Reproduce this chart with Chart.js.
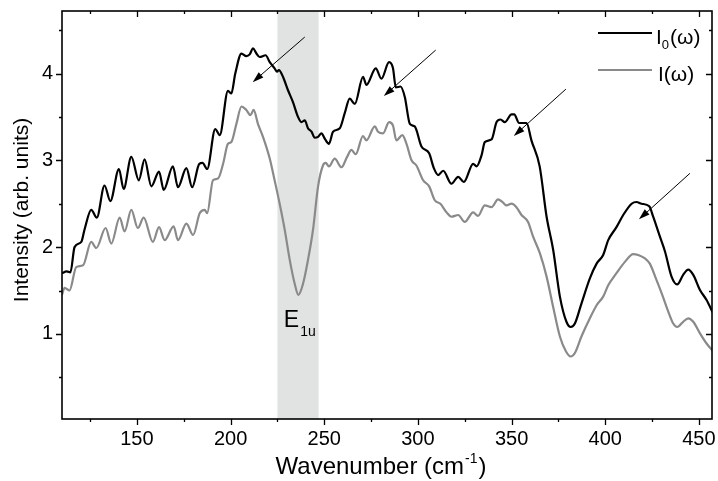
<!DOCTYPE html>
<html>
<head>
<meta charset="utf-8">
<script src="https://cdn.jsdelivr.net/npm/chart.js@4/dist/chart.umd.min.js"></script>
<style>
  html, body { margin: 0; padding: 0; background: #fff; }
  #wrap { width: 718px; height: 481px; }
</style>
</head>
<body>
<div id="wrap"><canvas id="myChart"></canvas></div>
<script>
// wavenumber (cm-1) and intensity of the reference spectrum I0(w)
const wnI0 = [110, 112.5, 114.5, 116.7, 120.3, 122, 125.6, 128.6, 132.7, 135.8, 140.4, 142.9, 147, 151, 154.1, 157.7,
  161.8, 164.3, 169.2, 171.9, 176.4, 179.5, 183.3, 185, 187.5, 191.8, 194.2, 198.6, 200.4, 202.5, 205.8, 208.4,
  210.2, 212, 213.8, 215.5, 218.7, 220.9, 223.5, 224.8, 225.8, 228, 230.6, 233.3, 236, 237.8, 239.6, 241.3,
  243.2, 244.9, 246.7, 248.5, 250.5, 252.5, 254.7, 258.3, 260.9, 263.6, 266.3, 270.7, 272.5, 277.5, 280.5, 284.6,
  286.7, 288.2, 290.7, 293, 295.7, 298.3, 301.9, 306, 308.5, 310.8, 313.5, 317.9, 321.5, 324.5, 329.5, 331.3,
  334, 335.7, 339.3, 342, 344.1, 346.4, 350, 351.4, 354, 358, 360.6, 365, 368.7, 372.2, 375.8, 379.3,
  381.6, 383.8, 387.3, 391.8, 395.4, 398.9, 401.6, 406, 409.6, 414.1, 416.7, 419.4, 423.5, 425.6, 429.2, 431.9,
  435.4, 438.4, 441.6, 444.3, 447, 450.5, 454.1, 457.3]
const I0 = [1.70, 1.72, 1.71, 2.00, 2.06, 2.20, 2.43, 2.34, 2.71, 2.53, 2.90, 2.67, 3.04, 2.77, 3.01, 2.70,
  2.87, 2.66, 2.93, 2.69, 2.91, 2.69, 2.96, 2.97, 2.90, 3.36, 3.29, 3.80, 3.77, 4.00, 4.23, 4.20,
  4.22, 4.29, 4.23, 4.19, 4.21, 4.13, 4.06, 4.02, 4.04, 3.96, 3.81, 3.67, 3.50, 3.44, 3.46, 3.37,
  3.33, 3.26, 3.27, 3.31, 3.24, 3.19, 3.33, 3.37, 3.54, 3.71, 3.65, 3.96, 3.87, 4.06, 3.94, 4.13,
  4.06, 3.84, 3.85, 3.73, 3.42, 3.39, 3.16, 3.08, 2.91, 2.83, 2.88, 2.73, 2.81, 2.75, 2.96, 2.93,
  3.06, 3.21, 3.24, 3.44, 3.47, 3.44, 3.53, 3.53, 3.43, 3.43, 3.23, 2.93, 2.35, 1.97, 1.43, 1.14,
  1.08, 1.12, 1.35, 1.64, 1.81, 1.91, 2.08, 2.23, 2.37, 2.50, 2.52, 2.50, 2.47, 2.35, 2.12, 1.95,
  1.66, 1.57, 1.68, 1.74, 1.68, 1.51, 1.39, 1.25]

// wavenumber and intensity of I(w)
const wnI = [110, 111.4, 114, 117.6, 121.2, 125.6, 128.3, 133.3, 136.3, 140.8, 143.4, 147, 150.5, 153.6, 158.5, 161.8,
  164.8, 169.6, 171.9, 176.4, 180, 183.5, 186.2, 187.5, 190.6, 193.3, 196, 198.6, 200.4, 203.1, 205.8, 208.4,
  210.6, 212.3, 214.6, 217.3, 220.9, 223.5, 226.2, 228.9, 231.6, 234.2, 236.2, 238.7, 241.3, 244, 246.7, 249.3,
  250.8, 252.5, 255.6, 259.2, 262.2, 264.5, 266.8, 270.7, 272.5, 277, 278.7, 281.4, 284.6, 286.7, 288.5, 291.7,
  293.9, 296.6, 299.2, 302.8, 306, 309, 312, 315.3, 317.9, 321.5, 325, 329.5, 332.1, 335.7, 339.3, 342.8,
  345.1, 347.3, 350, 352.6, 355.3, 358.8, 361.5, 365.1, 368.7, 372.2, 375.8, 379, 381.5, 383.8, 387.3, 391.8,
  395.4, 398.9, 401.6, 406, 410.5, 414.9, 417.6, 421.2, 423.8, 427.4, 430.1, 433.6, 436.3, 438.4, 441.6, 444.3,
  447, 450.5, 454.1, 457.6]
const I = [1.45, 1.53, 1.50, 1.77, 1.79, 2.06, 1.99, 2.22, 2.04, 2.34, 2.18, 2.43, 2.22, 2.34, 2.06, 2.23,
  2.08, 2.24, 2.08, 2.27, 2.14, 2.39, 2.43, 2.39, 2.77, 2.79, 2.96, 3.19, 3.21, 3.42, 3.62, 3.58,
  3.52, 3.58, 3.42, 3.27, 3.02, 2.77, 2.50, 2.20, 1.85, 1.58, 1.45, 1.58, 1.85, 2.20, 2.70, 2.94,
  2.97, 2.93, 3.02, 2.92, 3.04, 3.12, 3.07, 3.28, 3.23, 3.39, 3.33, 3.31, 3.44, 3.40, 3.23, 3.29,
  3.19, 3.00, 2.94, 2.77, 2.70, 2.54, 2.50, 2.40, 2.35, 2.37, 2.29, 2.40, 2.36, 2.48, 2.46, 2.55,
  2.52, 2.48, 2.50, 2.46, 2.37, 2.29, 2.12, 1.93, 1.66, 1.31, 0.97, 0.80, 0.74, 0.78, 0.97, 1.18,
  1.33, 1.43, 1.56, 1.70, 1.83, 1.92, 1.91, 1.87, 1.81, 1.62, 1.47, 1.26, 1.12, 1.08, 1.14, 1.18,
  1.14, 1.01, 0.89, 0.80]

const xTicks = [150, 200, 250, 300, 350, 400, 450]
const xMinor = [125, 175, 225, 275, 325, 375, 425]
const yTicks = [1, 2, 3, 4]
const yMinor = [0.5, 1.5, 2.5, 3.5, 4.5]

// shaded E1u region and the arrows (start x, start y, end x, end y)
const band = [225, 247]
const arrows = [
  [239.6, 4.42, 211.8, 3.90],
  [309.5, 4.27, 281.8, 3.74],
  [379.0, 3.82, 351.2, 3.28],
  [445.2, 2.85, 418.0, 2.32]
]

const FONT = '"Liberation Sans", Arial, sans-serif'
const BLACK = '#000'
const GREY = '#8a8a8a'

const toPoints = (xs, ys) => xs.map((x, i) => ({x: x, y: ys[i]}))

function drawArrow(ctx, sx, sy, ex, ey) {
  const ang = Math.atan2(ey - sy, ex - sx)
  const len = 11, half = 3.5
  ctx.beginPath()
  ctx.moveTo(sx, sy)
  ctx.lineTo(ex - Math.cos(ang) * len * 0.8, ey - Math.sin(ang) * len * 0.8)
  ctx.stroke()
  ctx.beginPath()
  ctx.moveTo(ex, ey)
  ctx.lineTo(ex - Math.cos(ang) * len - Math.sin(ang) * half, ey - Math.sin(ang) * len + Math.cos(ang) * half)
  ctx.lineTo(ex - Math.cos(ang) * len + Math.sin(ang) * half, ey - Math.sin(ang) * len - Math.cos(ang) * half)
  ctx.closePath()
  ctx.fill()
}

const decor = {
  id: 'decor',
  beforeDatasetsDraw(chart) {
    const {ctx, chartArea: a, scales: {x}} = chart
    const x0 = x.getPixelForValue(band[0])
    const x1 = x.getPixelForValue(band[1])
    ctx.save()
    ctx.fillStyle = '#e1e3e3'
    ctx.fillRect(x0, a.top, x1 - x0, a.bottom - a.top)
    ctx.restore()
  },
  afterDatasetsDraw(chart) {
    const {ctx, chartArea: a, scales: {x, y}} = chart
    ctx.save()

    // frame
    ctx.strokeStyle = BLACK
    ctx.lineWidth = 1.6
    ctx.strokeRect(a.left, a.top, a.right - a.left, a.bottom - a.top)

    // ticks: outward on left/bottom, inward on top/right
    ctx.lineWidth = 1.3
    ctx.beginPath()
    const xt = (v, len) => {
      const px = Math.round(x.getPixelForValue(v)) + 0.5
      ctx.moveTo(px, a.bottom); ctx.lineTo(px, a.bottom + len)
      ctx.moveTo(px, a.top); ctx.lineTo(px, a.top + len)
    }
    const yt = (v, len) => {
      const py = Math.round(y.getPixelForValue(v)) + 0.5
      ctx.moveTo(a.left, py); ctx.lineTo(a.left - len, py)
      ctx.moveTo(a.right, py); ctx.lineTo(a.right - len, py)
    }
    xTicks.forEach(v => xt(v, 6))
    xMinor.forEach(v => xt(v, 3))
    yTicks.forEach(v => yt(v, 6))
    yMinor.forEach(v => yt(v, 3))
    ctx.stroke()

    // arrows
    ctx.lineWidth = 1
    ctx.fillStyle = BLACK
    arrows.forEach(r => drawArrow(ctx,
      x.getPixelForValue(r[0]), y.getPixelForValue(r[1]),
      x.getPixelForValue(r[2]), y.getPixelForValue(r[3])))

    // E1u label
    const ex = x.getPixelForValue(228.4), ey = y.getPixelForValue(1.08)
    ctx.textBaseline = 'alphabetic'
    ctx.textAlign = 'left'
    ctx.font = '23px ' + FONT
    ctx.fillText('E', ex, ey)
    const ew = ctx.measureText('E').width
    ctx.font = '14px ' + FONT
    ctx.fillText('1u', ex + ew + 1, ey + 9)

    // legend
    const lx = a.right - 114, ly = a.top + 22
    ctx.lineWidth = 2
    ctx.strokeStyle = BLACK
    ctx.beginPath(); ctx.moveTo(lx, ly); ctx.lineTo(lx + 54, ly); ctx.stroke()
    ctx.strokeStyle = GREY
    ctx.beginPath(); ctx.moveTo(lx, ly + 37); ctx.lineTo(lx + 54, ly + 37); ctx.stroke()

    ctx.fillStyle = BLACK
    let tx = lx + 58
    ctx.font = '21px ' + FONT
    ctx.fillText('I', tx, ly + 11)
    tx += ctx.measureText('I').width
    ctx.font = '13px ' + FONT
    ctx.fillText('0', tx, ly + 16)
    tx += ctx.measureText('0').width + 1
    ctx.font = '21px ' + FONT
    ctx.fillText('(\u03c9)', tx, ly + 11)
    ctx.fillText('I(\u03c9)', lx + 60, ly + 48)

    // axis titles
    ctx.font = '24px ' + FONT
    const t1 = 'Wavenumber (cm', t3 = ')'
    const w1 = ctx.measureText(t1).width, w3 = ctx.measureText(t3).width
    ctx.font = '14px ' + FONT
    const w2 = ctx.measureText('-1').width
    let sx = (a.left + a.right) / 2 - 7 - (w1 + w2 + w3) / 2
    const by = a.bottom + 55
    ctx.font = '24px ' + FONT
    ctx.fillText(t1, sx, by)
    ctx.font = '14px ' + FONT
    ctx.fillText('-1', sx + w1 + 1, by - 11)
    ctx.font = '24px ' + FONT
    ctx.fillText(t3, sx + w1 + w2 + 2, by)

    ctx.translate(a.left - 34, (a.top + a.bottom) / 2 - 5)
    ctx.rotate(-Math.PI / 2)
    ctx.textAlign = 'center'
    ctx.font = '21px ' + FONT
    ctx.fillText('Intensity (arb. units)', 0, 0)
    ctx.restore()
  }
}

let myChart = document.getElementById('myChart').getContext('2d')
let spectrum = new Chart(myChart, {
  type: 'scatter',
  data: {
    datasets: [{
      label: 'I0',
      data: toPoints(wnI0, I0),
      showLine: true,
      borderColor: BLACK,
      borderWidth: 2.2,
      pointRadius: 0,
      cubicInterpolationMode: 'monotone'
    }, {
      label: 'I',
      data: toPoints(wnI, I),
      showLine: true,
      borderColor: GREY,
      borderWidth: 2.2,
      pointRadius: 0,
      cubicInterpolationMode: 'monotone'
    }]
  },
  options: {
    responsive: true,
    maintainAspectRatio: false,
    animation: false,
    layout: { padding: { top: 11, right: 6, left: 0, bottom: 0 } },
    plugins: { legend: { display: false }, tooltip: { enabled: false } },
    scales: {
      x: {
        type: 'linear',
        min: 110,
        max: 457,
        afterFit: s => { s.height = 62; s.paddingLeft = 0; s.paddingRight = 0 },
        afterBuildTicks: s => { s.ticks = xTicks.map(v => ({value: v})) },
        grid: { display: false, drawTicks: false },
        border: { display: false },
        ticks: { color: BLACK, padding: 8, font: { family: FONT, size: 20 } }
      },
      y: {
        type: 'linear',
        min: 0.02,
        max: 4.72,
        afterFit: s => { s.width = 62; s.paddingTop = 0; s.paddingBottom = 0 },
        afterBuildTicks: s => { s.ticks = yTicks.map(v => ({value: v})) },
        grid: { display: false, drawTicks: false },
        border: { display: false },
        ticks: { color: BLACK, padding: 9, font: { family: FONT, size: 20 } }
      }
    }
  },
  plugins: [decor]
})
</script>
</body>
</html>
